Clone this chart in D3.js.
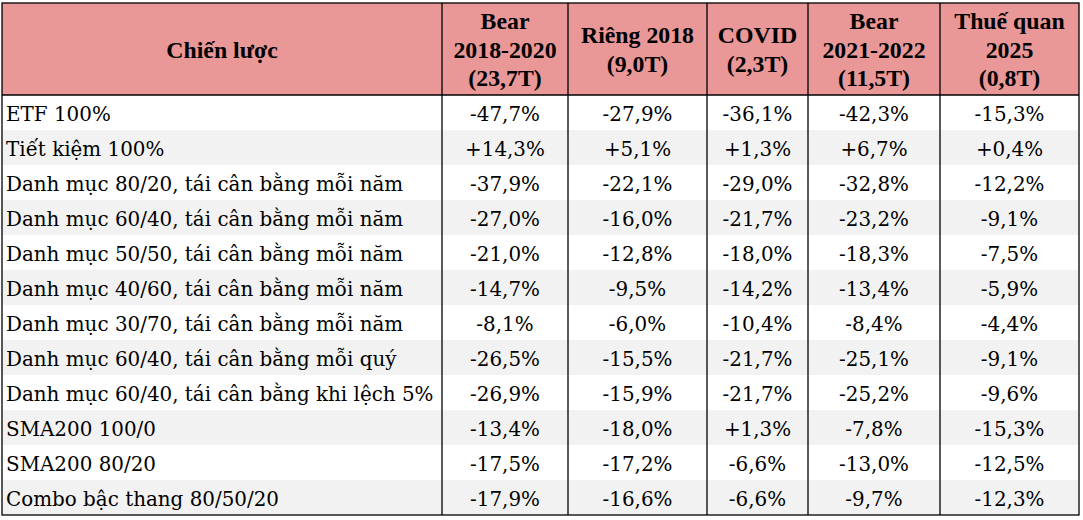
<!DOCTYPE html>
<html><head><meta charset="utf-8">
<script src="https://cdn.jsdelivr.net/npm/d3@7"></script>
<style>html,body{margin:0;padding:0;background:#fff;}svg{display:block;}</style>
</head><body>
<svg id="chart" width="1083" height="520"></svg>
<script>
// ---- data ----
const headerLabel = "Chiến lược";
const periods = [
  ["Bear", "2018-2020", "(23,7T)"],
  ["Riêng 2018", "(9,0T)"],
  ["COVID", "(2,3T)"],
  ["Bear", "2021-2022", "(11,5T)"],
  ["Thuế quan", "2025", "(0,8T)"]
];
const strategies = [
  "ETF 100%",
  "Tiết kiệm 100%",
  "Danh mục 80/20, tái cân bằng mỗi năm",
  "Danh mục 60/40, tái cân bằng mỗi năm",
  "Danh mục 50/50, tái cân bằng mỗi năm",
  "Danh mục 40/60, tái cân bằng mỗi năm",
  "Danh mục 30/70, tái cân bằng mỗi năm",
  "Danh mục 60/40, tái cân bằng mỗi quý",
  "Danh mục 60/40, tái cân bằng khi lệch 5%",
  "SMA200 100/0",
  "SMA200 80/20",
  "Combo bậc thang 80/50/20"
];
const bear2018_2020 = [-47.7, 14.3, -37.9, -27.0, -21.0, -14.7, -8.1, -26.5, -26.9, -13.4, -17.5, -17.9];
const rieng2018     = [-27.9, 5.1, -22.1, -16.0, -12.8, -9.5, -6.0, -15.5, -15.9, -18.0, -17.2, -16.6];
const covid         = [-36.1, 1.3, -29.0, -21.7, -18.0, -14.2, -10.4, -21.7, -21.7, 1.3, -6.6, -6.6];
const bear2021_2022 = [-42.3, 6.7, -32.8, -23.2, -18.3, -13.4, -8.4, -25.1, -25.2, -7.8, -13.0, -9.7];
const thueQuan2025  = [-15.3, 0.4, -12.2, -9.1, -7.5, -5.9, -4.4, -9.1, -9.6, -15.3, -12.5, -12.3];
const series = [bear2018_2020, rieng2018, covid, bear2021_2022, thueQuan2025];

// ---- layout ----
const colEdges = [2, 442, 568, 707, 808, 940, 1079];
const tableTop = 3, headerBottom = 95, tableBottom = 515;
const headFont = "'Liberation Serif', 'Times New Roman', serif";
const bodyFont = "'DejaVu Serif', serif";
const fs = 19.9;

const svg = d3.select("#chart");
const cols = d3.range(colEdges.length - 1);
const colX0 = d3.scaleOrdinal(cols, colEdges.slice(0, -1));
const colX1 = d3.scaleOrdinal(cols, colEdges.slice(1));
const colMid = c => (colX0(c) + colX1(c)) / 2;
const W = colEdges[colEdges.length-1] - colEdges[0];

const y = d3.scaleBand().domain(d3.range(strategies.length)).range([headerBottom, tableBottom]);

// header background
svg.append("rect").attr("x", colEdges[0]).attr("y", tableTop)
  .attr("width", W).attr("height", headerBottom - tableTop)
  .attr("fill", "#e99797");

// row bands
svg.selectAll("rect.band").data(strategies).join("rect").attr("class", "band")
  .attr("x", colEdges[0]).attr("y", (d, i) => y(i))
  .attr("width", W).attr("height", y.bandwidth())
  .attr("fill", (d, i) => i % 2 ? "#f2f2f2" : "#ffffff");

// header text
const hMid = (tableTop + headerBottom) / 2;
const lh = 28.5;
const hg = svg.append("g").attr("font-family", headFont).attr("font-weight", "bold").attr("font-size", 23.8).attr("fill", "#000");
hg.append("text").attr("x", colMid(0)).attr("y", hMid + 8.5).attr("text-anchor", "middle").text(headerLabel);
periods.forEach((lines, c) => {
  const t = hg.append("text").attr("text-anchor", "middle");
  lines.forEach((l, k) => {
    t.append("tspan").attr("x", colMid(c + 1))
      .attr("y", hMid + 8.5 + (k - (lines.length - 1) / 2) * lh).text(l);
  });
});

// body text
const fmt = v => (v > 0 ? "+" : v < 0 ? "-" : "") + d3.format(".1f")(Math.abs(v)).replace(".", ",") + "%";
const bg = svg.append("g").attr("font-family", bodyFont).attr("font-size", fs).attr("fill", "#000");
bg.selectAll("text.name").data(strategies).join("text").attr("class", "name")
  .attr("x", colX0(0) + 4).attr("y", (d, i) => y(i) + y.bandwidth() / 2 + 8.5).text(d => d);
series.forEach((vals, c) => {
  bg.selectAll("text.v" + c).data(vals).join("text").attr("class", "v" + c)
    .attr("x", colMid(c + 1)).attr("y", (d, i) => y(i) + y.bandwidth() / 2 + 8.5)
    .attr("text-anchor", "middle").text(fmt);
});

// grid lines
const lg = svg.append("g").attr("stroke", "#000").attr("stroke-width", 1.3).attr("fill", "none");
lg.append("rect").attr("x", colEdges[0]).attr("y", tableTop)
  .attr("width", W).attr("height", tableBottom - tableTop);
lg.append("line").attr("x1", colEdges[0]).attr("x2", colEdges[colEdges.length-1])
  .attr("y1", headerBottom).attr("y2", headerBottom);
lg.selectAll("line.v").data(colEdges.slice(1, -1)).join("line").attr("class", "v")
  .attr("x1", d => d).attr("x2", d => d).attr("y1", tableTop).attr("y2", tableBottom);
</script>
</body></html>
